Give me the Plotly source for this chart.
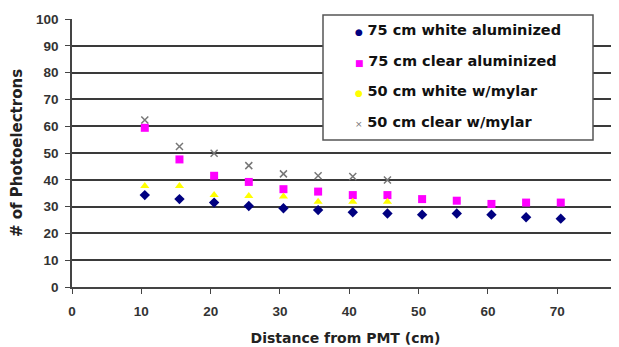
import plotly.graph_objects as go

x_all = [10.5, 15.5, 20.5, 25.5, 30.5, 35.5, 40.5, 45.5, 50.5, 55.5, 60.5, 65.5, 70.5]
x_short = [10.5, 15.5, 20.5, 25.5, 30.5, 35.5, 40.5, 45.5]

white_alum_75 = [34.3, 32.8, 31.5, 30.2, 29.4, 28.7, 27.9, 27.4, 27.0, 27.4, 27.0, 26.0, 25.5]
clear_alum_75 = [59.4, 47.6, 41.5, 39.2, 36.5, 35.6, 34.3, 34.3, 32.8, 32.2, 31.0, 31.5, 31.5]
white_mylar_50 = [37.7, 37.7, 34.3, 34.0, 33.8, 31.8, 31.8, 31.8]
clear_mylar_50 = [62.3, 52.4, 49.9, 45.3, 42.2, 41.5, 41.2, 39.9]

names = ["75 cm white aluminized", "75 cm clear aluminized",
         "50 cm white w/mylar", "50 cm clear w/mylar"]
colors = ["#000080", "#FF00FF", "#FFFF00", "#777777"]
symbols = ["diamond", "square", "triangle-up", "x-thin"]
legend_glyphs = ["●", "■", "●", "×"]

x_ticks = [0, 10, 20, 30, 40, 50, 60, 70]
y_ticks = [0, 10, 20, 30, 40, 50, 60, 70, 80, 90, 100]

# the page body adds an 8px margin, so figure coords = page coords - 8
OFF = 8
L, T, R, B = 72 - OFF, 19 - OFF, 619 - OFF, 287 - OFF
W, H = 611, 339
PW, PH = R - L, B - T

def px(xp):
    return (xp - OFF - L) / PW

def py(yp):
    return (B - (yp - OFF)) / PH

fig = go.Figure()
series = [(x_all, white_alum_75), (x_all, clear_alum_75),
          (x_short, white_mylar_50), (x_short, clear_mylar_50)]
for (xs, ys), n, c, s in zip(series, names, colors, symbols):
    marker = dict(color=c, size=8, symbol=s)
    if s == "x-thin":
        marker = dict(color=c, size=7, symbol=s, line=dict(color=c, width=1.5))
    fig.add_trace(go.Scatter(x=xs, y=ys, mode="markers", name=n, marker=marker,
                             showlegend=False))

# legend box
fig.add_shape(type="rect", xref="paper", yref="paper",
              x0=px(323), x1=px(593), y0=py(140), y1=py(15),
              fillcolor="white", line=dict(color="#555555", width=1.5), layer="above")
for i, (n, c, g) in enumerate(zip(names, colors, legend_glyphs)):
    ypx = 30 + i * 30.7
    fig.add_annotation(xref="paper", yref="paper",
                       x=px(353), y=py(ypx),
                       xanchor="left", yanchor="middle", showarrow=False,
                       text=f'<span style="color:{c};font-size:9px">{g}</span> <b>{n}</b>',
                       font=dict(family="DejaVu Sans", size=14.5, color="#111111"))

fig.update_layout(
    width=W, height=H,
    margin=dict(l=L, r=W - R, t=T, b=H - B),
    paper_bgcolor="white", plot_bgcolor="white",
    font=dict(family="Arial", color="#222222"),
    xaxis=dict(range=[0, 78.9], tickvals=x_ticks, ticks="outside", ticklen=5,
               tickcolor="#444444", showgrid=False, zeroline=False,
               showline=True, linecolor="#444444", linewidth=1.5,
               ticklabelstandoff=6,
               tickfont=dict(family="Arial", size=13.5, color="#333333", weight="bold"),
               title=dict(text="<b>Distance from PMT (cm)</b>", standoff=15,
                          font=dict(family="DejaVu Sans", size=14, color="#222222"))),
    yaxis=dict(range=[0, 100], tickvals=y_ticks, ticks="outside", ticklen=5,
               tickcolor="#444444", showgrid=True, gridcolor="#3a3a3a", gridwidth=1.8,
               zeroline=False, showline=True, linecolor="#444444", linewidth=1.5,
               ticklabelstandoff=4,
               tickfont=dict(family="Arial", size=13.5, color="#333333", weight="bold"),
               title=dict(text="<b># of Photoelectrons</b>", standoff=12,
                          font=dict(family="DejaVu Sans", size=15, color="#222222"))),
)

fig.write_html("out.html")
